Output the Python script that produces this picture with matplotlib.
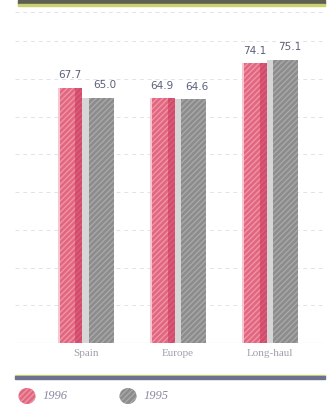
import matplotlib as mpl
mpl.use('Agg')
import matplotlib.pyplot as plt
from matplotlib.patches import Rectangle, Ellipse
import numpy as np

categories = ["Spain", "Europe", "Long-haul"]
years = ["1996", "1995"]
vals_1996 = [67.7, 64.9, 74.1]
vals_1995 = [65.0, 64.6, 75.1]
label_1996 = ["67.7", "64.9", "74.1"]
label_1995 = ["65.0", "64.6", "75.1"]

pink = '#e2667f'
pink_dark = '#c8345a'
gray = '#8c8c8c'
gray_light = '#d6d6d6'

fig = plt.figure(figsize=(3.34, 4.12), dpi=100)
W, H = 334.0, 412.0

ax = fig.add_axes([15/W, 1 - 343/H, 310/W, 332/H])
x = np.arange(len(categories))
bw = 0.27
off = 0.17

ax.set_xlim(-0.766, 2.596)
ax.set_ylim(0, 88)

# faint dashed grid every 10, plus one along the top
for g in list(range(10, 90, 10)) + [87.8]:
    ax.axhline(g, color='#e2e2ea', lw=0.7, ls=(0, (4, 4)), zorder=0)
ax.axhline(0, color='#d8d8e4', lw=0.8, zorder=0)

# 1996 bars: hatched pink with dark right side
ax.bar(x - off, vals_1996, bw, color=pink, hatch='//////', edgecolor='#ee95a6', lw=0, zorder=2)
ax.bar(x - off + bw*0.36, vals_1996, bw*0.28, color=pink_dark, lw=0, alpha=0.55, zorder=3)
ax.bar(x - off - bw*0.45, vals_1996, bw*0.1, color='#f7c6d0', lw=0, zorder=3)

# 1995 bars: hatched gray with light left side
ax.bar(x + off, vals_1995, bw, color=gray, hatch='//////', edgecolor='#a8a8a8', lw=0, zorder=2)
ax.bar(x + off - bw*0.5 - 0.035, vals_1995, 0.07, color=gray_light, lw=0, zorder=2)

for i in range(len(categories)):
    ax.text(x[i] - off, vals_1996[i] + 2.0, label_1996[i], ha='center', va='bottom',
            fontsize=7.5, color='#5a6078', family='Liberation Sans Narrow')
    ax.text(x[i] + off + 0.04, vals_1995[i] + 2.0, label_1995[i], ha='center', va='bottom',
            fontsize=7.5, color='#5a6078', family='Liberation Sans Narrow')

ax.set_xticks(x)
ax.set_xticklabels(categories, family='Liberation Serif', fontsize=8, color='#a0a0ae')
ax.tick_params(length=0, pad=4)
ax.set_yticks([])
for s in ax.spines.values():
    s.set_visible(False)

# header band
fig.patches.append(Rectangle((18/W, 1 - 4/H), 307/W, 4/H, transform=fig.transFigure,
                             color='#5e5e52', zorder=5))
fig.patches.append(Rectangle((18/W, 1 - 5.5/H), 307/W, 1.5/H, transform=fig.transFigure,
                             color='#c8d070', zorder=5))

# footer rule
fig.patches.append(Rectangle((15/W, 1 - 376/H), 310/W, 1.5/H, transform=fig.transFigure,
                             color='#d8e070', zorder=5))
fig.patches.append(Rectangle((15/W, 1 - 378.5/H), 310/W, 2.5/H, transform=fig.transFigure,
                             color='#6c7290', zorder=5))

# legend markers
for cx, col, hc, yr in [(27, pink, '#ee95a6', years[0]), (128, gray, '#a8a8a8', years[1])]:
    fig.patches.append(Ellipse((cx/W, 1 - 396/H), 17/W, 16/H, transform=fig.transFigure,
                               facecolor=col, edgecolor=hc, hatch='//////', lw=0, zorder=5))
    fig.text((cx + 16)/W, 1 - 396/H, yr, ha='left', va='center', fontsize=9,
             style='italic', family='Liberation Serif', color='#8a8aa0')

fig.savefig('out.png', dpi=100, facecolor='white')
